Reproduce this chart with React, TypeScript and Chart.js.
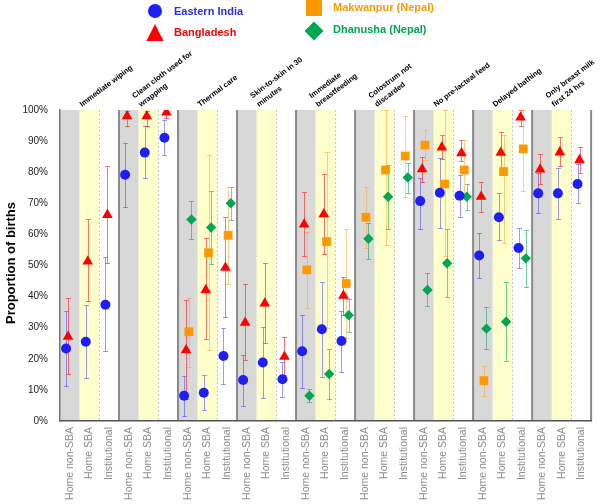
import React, { useEffect, useRef } from 'react';
import { Chart, registerables } from 'chart.js';

Chart.register(...registerables);

const settings = ['Home non-SBA', 'Home SBA', 'Institutional'];
const groupLabels: string[][] = [
  ['Immediate wiping'],
  ['Clean cloth used for', 'wrapping'],
  ['Thermal care'],
  ['Skin-to-skin in 30', 'minutes'],
  ['Immediate', 'breastfeeding'],
  ['Colostrum not', 'discarded'],
  ['No pre-lacteal feed'],
  ['Delayed bathing'],
  ['Only breast milk', 'first 24 hrs'],
];
const categories: string[] = groupLabels.flatMap(() => settings);

const yTickValues = [0, 10, 20, 30, 40, 50, 60, 70, 80, 90, 100];

// Eastern India
const indiaVal = [23.3, 25.5, 37.4, 79.2, 86.3, 91.1, 8.1, 9.1, 20.9, 13.2, 18.8, 13.4, 22.4, 29.5, 25.7, null, null, null, 70.7, 73.4, 72.4, 53.2, 65.5, 55.6, 73.2, 73.2, 76.2];
const indiaLo = [11.2, 13.9, 22.5, 68.9, 78, 85.5, 1.6, 3.5, 11.8, 4.8, 7.3, 7.6, 10.5, 14, 15.6, null, null, null, 61.6, 62.2, 65.7, 45.9, 58.2, 49.1, 66.8, 65, 70];
const indiaHi = [35.3, 37.3, 52.6, 89.5, 95, 96.8, 14.6, 14.8, 30, 21.2, 30.1, 19.1, 34.1, 44.8, 35.5, null, null, null, 78, 84.7, 79.1, 60.6, 73.2, 62.2, 79.6, 81.5, 82.5];

// Bangladesh
const bangVal = [27.1, 51.3, 66.3, 98, 98, 99.2, 22.8, 42.1, 49.3, 31.6, 37.8, 20.7, 63.2, 66.5, 40.3, null, null, null, 81, 88, 86.1, 72.1, 86.3, 97.6, 80.9, 86.4, 83.9];
const bangLo = [15, 38.5, 50.8, 95, 95, 97.5, 7, 26.3, 33.3, 19.6, 25, 14.8, 53.1, 53.7, 34.1, null, null, null, 77, 84.2, 83.7, 67.1, 79.3, 95, 76.1, 82.1, 79.6];
const bangHi = [39.5, 64.9, 82, 99.8, 99.8, 100, 38.9, 58.7, 65.7, 44, 50.7, 27.1, 73.7, 79.4, 46.4, null, null, null, 85, 92.1, 90.4, 76.9, 93, 100, 86, 91.2, 88.2];

// Makwanpur (Nepal)
const makVal = [null, null, null, null, null, null, 28.7, 54.1, 59.7, null, null, null, 48.6, 57.7, 44.2, 65.5, 80.7, 85.2, 88.7, 76.2, 80.7, 13, 80.2, 87.5, null, null, null];
const makLo = [null, null, null, null, null, null, 17.5, 22.8, 44, null, null, null, 36.2, 30, 26.6, 55.5, 56.6, 72, 84, 53, 72, 8, 57.2, 74, null, null, null];
const makHi = [null, null, null, null, null, null, 39.7, 85.5, 75.3, null, null, null, 60.9, 86.6, 61.7, 75.1, 100, 98.2, 93.6, 100, 90.4, 17.8, 92, 100, null, null, null];

// Dhanusha (Nepal)
const dhaVal = [null, null, null, null, null, null, 64.8, 62.2, 70, null, null, null, 8.1, 15.1, 34, 58.6, 72.1, 78.3, 42.1, 50.7, 72.1, 29.7, 31.9, 52.3, null, null, null];
const dhaLo = [null, null, null, null, null, null, 58.4, 50.4, 64.6, null, null, null, 6.2, 7, 28.5, 52, 61.6, 73.2, 37, 39.8, 67.8, 23, 19.4, 43.2, null, null, null];
const dhaHi = [null, null, null, null, null, null, 70.8, 74, 75.1, null, null, null, 10.2, 23, 39.2, 63.6, 82.3, 82.9, 47.5, 61.6, 76.2, 36.5, 44.6, 61.4, null, null, null];

type Series = {
  name: string;
  val: (number | null)[];
  lo: (number | null)[];
  hi: (number | null)[];
  color: string;
  textColor: string;
  errColor: string;
  style: 'circle' | 'triangle' | 'rect' | 'rectRot';
  radius: number;
  offset: number;
};

const series: Series[] = [
  { name: 'Eastern India', val: indiaVal, lo: indiaLo, hi: indiaHi, color: '#1f1ff5', textColor: '#2d2de6', errColor: 'rgba(70,70,255,0.55)', style: 'circle', radius: 5, offset: -0.19 },
  { name: 'Bangladesh', val: bangVal, lo: bangLo, hi: bangHi, color: '#ff0000', textColor: '#ff0000', errColor: 'rgba(255,40,40,0.65)', style: 'triangle', radius: 6.2, offset: -0.09 },
  { name: 'Makwanpur (Nepal)', val: makVal, lo: makLo, hi: makHi, color: '#ff9900', textColor: '#ff9900', errColor: 'rgba(255,165,40,0.55)', style: 'rect', radius: 6.2, offset: 0.05 },
  { name: 'Dhanusha (Nepal)', val: dhaVal, lo: dhaLo, hi: dhaHi, color: '#00a651', textColor: '#00a651', errColor: 'rgba(0,170,80,0.55)', style: 'rectRot', radius: 5.2, offset: 0.18 },
];

const GREY = '#d8d8d8';
const YELLOW = '#ffffcc';

const bandsPlugin = {
  id: 'bands',
  beforeDraw(chart: any) {
    const { ctx, chartArea: a, scales } = chart;
    const x = scales.x;
    ctx.save();
    for (let i = 0; i < categories.length; i++) {
      const k = i % 3;
      const l = x.getPixelForValue(i - 0.5);
      const r = x.getPixelForValue(i + 0.5);
      if (k < 2) {
        ctx.fillStyle = k === 0 ? GREY : YELLOW;
        ctx.fillRect(l, a.top, r - l, a.bottom - a.top);
      }
      if (k === 1) {
        ctx.strokeStyle = '#c9c9c9';
        ctx.lineWidth = 1;
        ctx.setLineDash([2, 2]);
        ctx.beginPath();
        ctx.moveTo(Math.round(r) + 0.5, a.top);
        ctx.lineTo(Math.round(r) + 0.5, a.bottom);
        ctx.stroke();
        ctx.setLineDash([]);
      }
    }
    ctx.strokeStyle = '#8a8a8a';
    ctx.lineWidth = 2;
    for (let g = 1; g <= groupLabels.length; g++) {
      const gx = x.getPixelForValue(g * 3 - 0.5);
      ctx.beginPath();
      ctx.moveTo(gx, a.top);
      ctx.lineTo(gx, a.bottom);
      ctx.stroke();
    }
    ctx.restore();
  },
};

const errorBarPlugin = {
  id: 'errbars',
  beforeDatasetsDraw(chart: any) {
    const { ctx, scales } = chart;
    const x = scales.x;
    const y = scales.y;
    ctx.save();
    ctx.lineWidth = 1;
    series.forEach((s) => {
      ctx.strokeStyle = s.errColor;
      s.val.forEach((v, i) => {
        const lo = s.lo[i];
        const hi = s.hi[i];
        if (v == null || lo == null || hi == null) return;
        const px = Math.round(x.getPixelForValue(i + s.offset)) + 0.5;
        const pl = Math.round(y.getPixelForValue(lo)) + 0.5;
        const ph = Math.round(y.getPixelForValue(hi)) + 0.5;
        ctx.beginPath();
        ctx.moveTo(px, pl);
        ctx.lineTo(px, ph);
        ctx.moveTo(px - 2.5, pl);
        ctx.lineTo(px + 2.5, pl);
        ctx.moveTo(px - 2.5, ph);
        ctx.lineTo(px + 2.5, ph);
        ctx.stroke();
      });
    });
    ctx.restore();
  },
};

function drawMarker(ctx: CanvasRenderingContext2D, style: string, cx: number, cy: number, size: number) {
  ctx.beginPath();
  if (style === 'circle') {
    ctx.arc(cx, cy, size, 0, Math.PI * 2);
  } else if (style === 'triangle') {
    ctx.moveTo(cx, cy - size);
    ctx.lineTo(cx + size * 0.95, cy + size * 0.9);
    ctx.lineTo(cx - size * 0.95, cy + size * 0.9);
    ctx.closePath();
  } else if (style === 'rect') {
    ctx.rect(cx - size, cy - size, size * 2, size * 2);
  } else {
    ctx.moveTo(cx, cy - size);
    ctx.lineTo(cx + size, cy);
    ctx.lineTo(cx, cy + size);
    ctx.lineTo(cx - size, cy);
    ctx.closePath();
  }
  ctx.fill();
}

const legendPos = [
  { mx: 155, my: 11, tx: 174, ty: 12, size: 7 },
  { mx: 155, my: 33, tx: 174, ty: 33, size: 9 },
  { mx: 314, my: 8, tx: 333, ty: 8, size: 8 },
  { mx: 314, my: 31, tx: 333, ty: 30, size: 9.5 },
];

const annotPlugin = {
  id: 'annot',
  afterDraw(chart: any) {
    const { ctx, chartArea: a, scales } = chart;
    const x = scales.x;
    ctx.save();
    // legend
    series.forEach((s, k) => {
      const p = legendPos[k];
      ctx.fillStyle = s.color;
      drawMarker(ctx, s.style, p.mx, p.my, p.size);
      ctx.fillStyle = s.textColor;
      ctx.font = 'bold 11px "Liberation Sans", Arial, sans-serif';
      ctx.textAlign = 'left';
      ctx.textBaseline = 'middle';
      ctx.fillText(s.name, p.tx, p.ty);
    });
    // group labels
    const ang = (37 * Math.PI) / 180;
    ctx.fillStyle = '#000';
    ctx.font = 'bold 7.6px "Liberation Sans", Arial, sans-serif';
    ctx.textAlign = 'left';
    ctx.textBaseline = 'alphabetic';
    groupLabels.forEach((lines, g) => {
      const sx = x.getPixelForValue(g * 3 - 0.5) + 22;
      const sy = a.top - 3;
      ctx.save();
      ctx.translate(sx, sy);
      ctx.rotate(-ang);
      const n = lines.length;
      lines.forEach((ln, j) => {
        ctx.fillText(ln, 0, -(n - 1 - j) * 10.7);
      });
      ctx.restore();
    });
    // y title
    ctx.save();
    ctx.translate(11, 263);
    ctx.rotate(-Math.PI / 2);
    ctx.fillStyle = '#000';
    ctx.font = 'bold 13px "Liberation Sans", Arial, sans-serif';
    ctx.textAlign = 'center';
    ctx.textBaseline = 'middle';
    ctx.fillText('Proportion of births', 0, 0);
    ctx.restore();
    ctx.restore();
  },
};

export default function App() {
  const ref = useRef<HTMLCanvasElement | null>(null);
  useEffect(() => {
    if (!ref.current) return;
    const chart = new Chart(ref.current, {
      type: 'scatter',
      data: {
        datasets: series.map((s) => ({
          label: s.name,
          data: s.val
            .map((v, i) => (v == null ? null : { x: i + s.offset, y: v }))
            .filter((p) => p !== null) as { x: number; y: number }[],
          pointStyle: s.style,
          pointRadius: s.radius,
          pointHoverRadius: s.radius,
          backgroundColor: s.color,
          borderColor: s.color,
          borderWidth: 0,
          showLine: false,
        })),
      },
      options: {
        responsive: false,
        animation: false,
        layout: { padding: { top: 110, right: 4, left: 0, bottom: 0 } },
        plugins: {
          legend: { display: false },
          tooltip: { enabled: false },
        },
        scales: {
          x: {
            type: 'linear',
            min: -0.5,
            max: categories.length - 0.5,
            afterBuildTicks: (scale: any) => {
              scale.ticks = categories.map((_, i) => ({ value: i }));
            },
            afterFit: (scale: any) => {
              scale.height = 83;
            },
            grid: { display: false, drawTicks: false },
            border: { display: true, color: '#555555', width: 1.5 },
            ticks: {
              autoSkip: false,
              maxRotation: 90,
              minRotation: 90,
              padding: 6,
              color: '#8c8c8c',
              font: { family: '"Liberation Sans", Arial, sans-serif', size: 10.5 },
              callback: (_v: any, i: number) => categories[i],
            },
          },
          y: {
            min: 0,
            max: 100,
            afterBuildTicks: (scale: any) => {
              scale.ticks = yTickValues.map((v) => ({ value: v }));
            },
            afterFit: (scale: any) => {
              scale.width = 60;
            },
            grid: { display: false, drawTicks: false },
            border: { display: true, color: '#777777', width: 1.5 },
            ticks: {
              padding: 12,
              color: '#222222',
              font: { family: '"Liberation Sans", Arial, sans-serif', size: 10 },
              callback: (v: any) => v + '%',
            },
          },
        },
      },
      plugins: [bandsPlugin, errorBarPlugin, annotPlugin],
    } as any);
    return () => chart.destroy();
  }, []);
  return (
    <div style={{ position: 'absolute', left: 0, top: 0, width: 600, height: 504, background: '#fff' }}>
      <canvas ref={ref} width={600} height={504} />
    </div>
  );
}
